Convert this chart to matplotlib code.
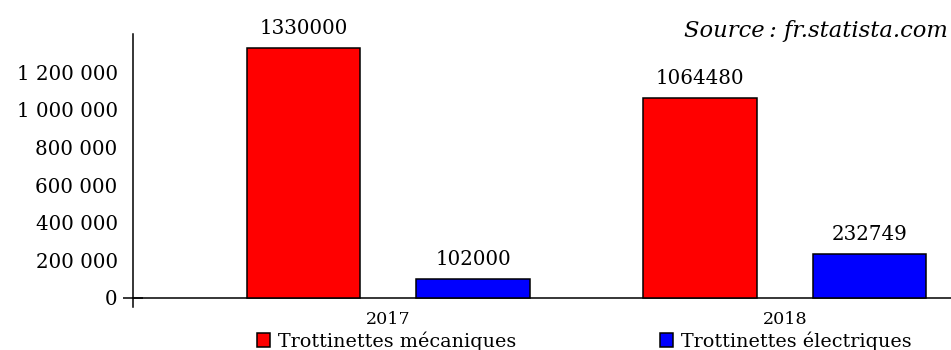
import matplotlib
matplotlib.use('Agg')
import matplotlib.pyplot as plt
from matplotlib.ticker import FixedLocator

plt.rcParams['font.family'] = ['DejaVu Serif']

YEARS = ['2017', '2018']
MECANIQUES = [1330000, 1064480]
ELECTRIQUES = [102000, 232749]
YTICKS = [0, 200000, 400000, 600000, 800000, 1000000, 1200000]
YLABELS = ['0', '200 000', '400 000', '600 000', '800 000', '1 000 000', '1 200 000']

FS = 14.3
W = 0.286
OFF = 0.2137

fig = plt.figure(figsize=(9.51, 3.5), dpi=100)
# 0 sits at y=298 px, axis runs from -50 000 (307.4 px) to 1 400 000 (34.4 px)
ax = fig.add_axes([133 / 951, 42.6 / 350, 1 - 133 / 951, 273 / 350])

pos = list(range(len(YEARS)))
b1 = ax.bar([p - OFF for p in pos], MECANIQUES, W, color='#ff0000', edgecolor='black',
            linewidth=1.1, label='Trottinettes mécaniques', zorder=3)
b2 = ax.bar([p + OFF for p in pos], ELECTRIQUES, W, color='#0000ff', edgecolor='black',
            linewidth=1.1, label='Trottinettes électriques', zorder=3)
ax.bar_label(b1, labels=[str(v) for v in MECANIQUES], padding=7, fontsize=FS)
ax.bar_label(b2, labels=[str(v) for v in ELECTRIQUES], padding=7, fontsize=FS)

ax.set_xlim(-0.644, 1.419)
ax.set_ylim(-50000, 1400000)

ax.spines['top'].set_visible(False)
ax.spines['right'].set_visible(False)
ax.spines['bottom'].set_position(('data', 0))
for s in ['left', 'bottom']:
    ax.spines[s].set_linewidth(1.1)

ax.set_yticks(YTICKS)
ax.set_yticklabels(YLABELS, fontsize=FS)
ax.tick_params(axis='y', which='major', length=0, pad=11)
ax.yaxis.remove_overlapping_locs = False
ax.yaxis.set_minor_locator(FixedLocator([0]))
ax.tick_params(axis='y', which='minor', direction='inout', length=15, width=1.1)

ax.set_xticks(pos)
ax.set_xticklabels(YEARS, fontsize=12.6)
ax.tick_params(axis='x', length=0, pad=9.5)

fig.legend(handles=[b1, b2], loc='center left', bbox_to_anchor=(257 / 951, 1 - 341 / 350),
           ncol=2, frameon=False, fontsize=13.8, handlelength=0.7, handleheight=0.7,
           handletextpad=0.4, columnspacing=7.5, borderpad=0, borderaxespad=0)

fig.text(0.997, 1 - 31 / 350, 'Source\u2009: fr.statista.com', ha='right', va='center',
         style='italic', fontsize=16.3)

fig.savefig('out.png', dpi=100)
